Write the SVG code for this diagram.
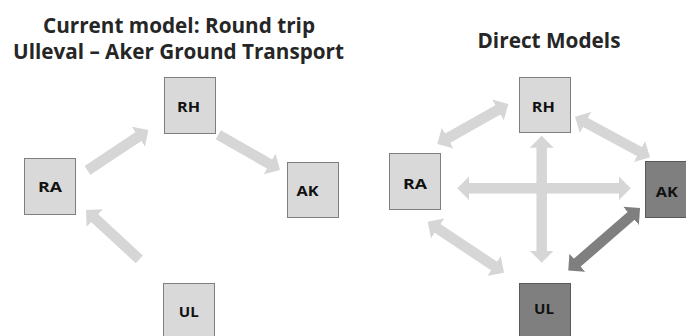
<svg xmlns="http://www.w3.org/2000/svg" width="686" height="336" viewBox="0 0 686 336">
<defs>
<style>
.title{font-family:"Open Sans","Liberation Sans",sans-serif;font-weight:bold;font-size:21px;fill:#262626;text-anchor:middle}
.lbl{font-family:"Open Sans","Liberation Sans",sans-serif;font-weight:bold;font-size:14px;fill:#111;text-anchor:middle}
.box{fill:#d9d9d9;stroke:#7f7f7f;stroke-width:1}
.dbox{fill:#7f7f7f;stroke:#595959;stroke-width:1}
.a{stroke:#d6d6d6;stroke-width:10.5;fill:none}
.ad{stroke:#7f7f7f;stroke-width:10.5;fill:none}
</style>
<marker id="hl" viewBox="0 0 12 24" markerUnits="userSpaceOnUse" markerWidth="12" markerHeight="24" refX="2" refY="12" orient="auto-start-reverse"><path d="M0,0 L12,12 L0,24 Z" fill="#d6d6d6"/></marker>
<marker id="hd" viewBox="0 0 12 24" markerUnits="userSpaceOnUse" markerWidth="12" markerHeight="24" refX="2" refY="12" orient="auto-start-reverse"><path d="M0,0 L12,12 L0,24 Z" fill="#7f7f7f"/></marker>
</defs>
<rect width="686" height="336" fill="#ffffff"/>
<text class="title" x="179" y="33" textLength="272" lengthAdjust="spacingAndGlyphs">Current model: Round trip</text>
<text class="title" x="178.5" y="59" textLength="331" lengthAdjust="spacingAndGlyphs">Ulleval – Aker Ground Transport</text>
<text class="title" x="549" y="48" textLength="143" lengthAdjust="spacingAndGlyphs">Direct Models</text>
<g id="connectors">
<line class="a" x1="87.5" y1="170.3" x2="140" y2="135.5" marker-end="url(#hl)"/>
<line class="a" x1="218.3" y1="134.7" x2="271.3" y2="165" marker-end="url(#hl)"/>
<line class="a" x1="139.3" y1="259.3" x2="93.3" y2="216.8" marker-end="url(#hl)"/>
<line class="a" x1="446" y1="139.1" x2="499.6" y2="108.9" marker-start="url(#hl)" marker-end="url(#hl)"/>
<line class="a" x1="583.8" y1="121.5" x2="641.2" y2="152.5" marker-start="url(#hl)" marker-end="url(#hl)"/>
<line class="a" x1="467.3" y1="188.3" x2="620.7" y2="188.3" marker-start="url(#hl)" marker-end="url(#hl)"/>
<line class="a" x1="541.7" y1="145.7" x2="541.7" y2="252.7" marker-start="url(#hl)" marker-end="url(#hl)"/>
<line class="a" x1="436" y1="227.3" x2="495.7" y2="267.1" marker-start="url(#hl)" marker-end="url(#hl)"/>
<line class="ad" x1="632.5" y1="214.6" x2="575.8" y2="263.9" marker-start="url(#hd)" marker-end="url(#hd)"/>
</g>
<g id="L-RH"><rect class="box" x="164.5" y="77.5" width="51" height="56"/><text class="lbl" x="188.5" y="112" textLength="23" lengthAdjust="spacingAndGlyphs">RH</text></g>
<g id="L-RA"><rect class="box" x="24.5" y="158.5" width="51" height="56"/><text class="lbl" x="50" y="191.5" textLength="24" lengthAdjust="spacingAndGlyphs">RA</text></g>
<g id="L-AK"><rect class="box" x="287.5" y="162.5" width="51" height="55"/><text class="lbl" x="307.5" y="195.5" textLength="22" lengthAdjust="spacingAndGlyphs">AK</text></g>
<g id="L-UL"><rect class="box" x="163.5" y="283.5" width="51" height="60"/><text class="lbl" x="188.7" y="317" textLength="20" lengthAdjust="spacingAndGlyphs">UL</text></g>
<g id="R-RH"><rect class="box" x="519.5" y="77.5" width="51" height="55"/><text class="lbl" x="543.3" y="111.5" textLength="23" lengthAdjust="spacingAndGlyphs">RH</text></g>
<g id="R-RA"><rect class="box" x="389.5" y="153.5" width="51" height="56"/><text class="lbl" x="415" y="189" textLength="24" lengthAdjust="spacingAndGlyphs">RA</text></g>
<g id="R-AK"><rect class="dbox" x="645.5" y="161.5" width="50" height="56"/><text class="lbl" x="666.7" y="196.5" textLength="22" lengthAdjust="spacingAndGlyphs">AK</text></g>
<g id="R-UL"><rect class="dbox" x="519.5" y="283.5" width="51" height="60"/><text class="lbl" x="544" y="314" textLength="20" lengthAdjust="spacingAndGlyphs">UL</text></g>
</svg>
